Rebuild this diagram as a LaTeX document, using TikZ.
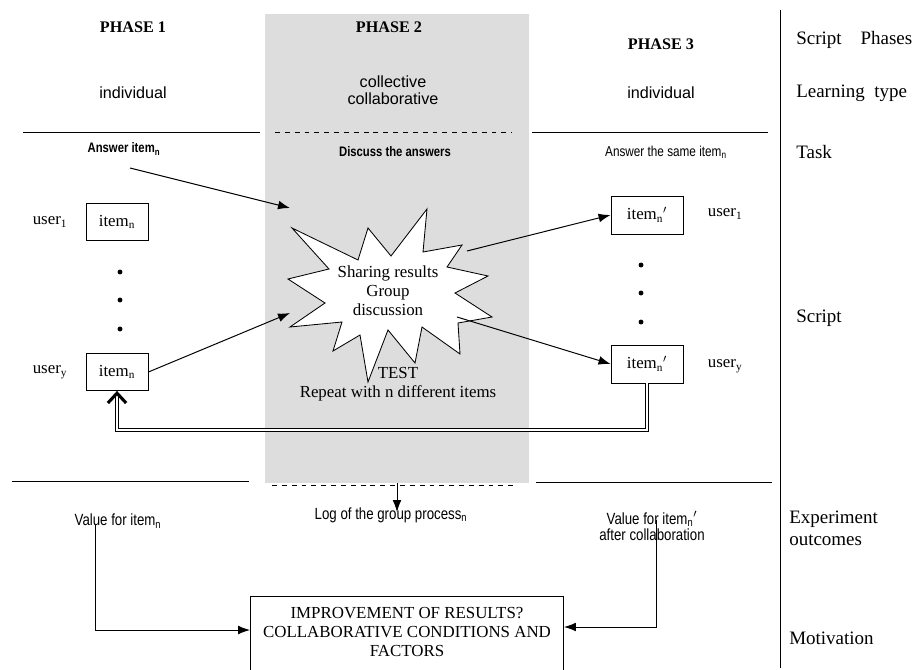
\documentclass[tikz,border=0pt]{standalone}
\usepackage{fontspec}
\setmainfont{Liberation Serif}
\setsansfont{Liberation Sans}
\newfontfamily\narrowsf{Liberation Sans}[FakeStretch=0.82]
\usetikzlibrary{positioning, arrows.meta}
\tikzset{
  itembox/.style={rectangle, draw, line width=0.6pt, minimum width=1.55cm, minimum height=0.925cm, font=\fontsize{12}{14}\selectfont},
  itemboxb/.style={itembox, minimum width=1.8cm, minimum height=0.95cm},
  serif/.style={font=\fontsize{12}{13.5}\selectfont, align=center},
  side/.style={font=\fontsize{13.5}{15.5}\selectfont, anchor=west, align=left, inner sep=0pt},
  phase/.style={font=\fontsize{11.5}{13}\selectfont\bfseries},
  sans/.style={font=\fontsize{11.5}{12}\selectfont\sffamily, align=center},
  narrow/.style={font=\fontsize{11.5}{11.5}\selectfont\narrowsf, align=center},
  arrow/.style={-{Latex[length=3mm,width=2.2mm]}, line width=0.7pt},
  sepline/.style={line width=0.6pt},
  dashsep/.style={line width=0.5pt, dash pattern=on 3.5pt off 3.5pt},
}

\begin{document}
\begin{tikzpicture}[x=0.025cm, y=-0.025cm]
  \tikzset{
    burstline/.style={draw, fill=white, line width=0.6pt, line join=miter},
    outbox/.style={rectangle, draw, fill=white, line width=0.6pt, minimum width=7.825cm, inner ysep=7.5pt, anchor=north, align=center, font=\fontsize{12}{13.5}\selectfont},
    dot/.style={circle, fill, inner sep=0pt, minimum size=3.5pt},
    feedback/.style={double, double distance=1.6pt, line width=0.6pt, -{Straight Barb[length=7pt, width=13pt, line width=2.2pt]}},
  }
  \useasboundingbox (0,0) rectangle (914,670);
  \clip (0,0) rectangle (914,670);

  % Phase 2 background
  \fill[gray!27] (265,14) rectangle (529,483);

  % Column headings
  \node[phase] (ph1) at (133,27) {PHASE 1};
  \node[phase] (ph2) at (389,27) {PHASE 2};
  \node[phase] (ph3) at (661,44) {PHASE 3};
  \node[sans] (learn1) at (133,93) {individual};
  \node[sans] (learn2) at (393,90) {collective\\collaborative};
  \node[sans] (learn3) at (661,93) {individual};

  % Separators
  \draw[sepline] (23,132) -- (260,132);
  \draw[dashsep] (275,132) -- (512,132);
  \draw[sepline] (532,132) -- (768,132);
  \draw[sepline] (12,481) -- (249,481);
  \draw[dashsep] (272,485) -- (513,485);
  \draw[sepline] (536,482) -- (772,482);
  \draw[sepline] (780,10) -- (780,668);

  % Tasks
  \node[narrow, font=\fontsize{9.8}{10}\selectfont\narrowsf\bfseries] (task1) at (124,149) {Answer item\textsubscript{n}};
  \node[narrow, font=\fontsize{9.8}{10}\selectfont\narrowsf\bfseries] (task2) at (395,152) {Discuss the answers};
  \node[narrow, font=\fontsize{10.2}{11}\selectfont\narrowsf] (task3) at (666,152) {Answer the same item\textsubscript{n}};

  % Phase 1 users
  \node[itembox] (lbox1) at (117,222) {item\textsubscript{n}};
  \node[itembox] (lbox2) at (117,372) {item\textsubscript{n}};
  \node[serif] (luser1) at (50,222) {user\textsubscript{1}};
  \node[serif] (lusery) at (50,372) {user\textsubscript{y}};
  \node[dot] (ldot1) at (120,272) {};
  \node[dot] (ldot2) at (120,300) {};
  \node[dot] (ldot3) at (120,329) {};

  % Group discussion (starburst)
  \path[burstline] (427,209) -- (423,252) -- (462,245) -- (447,267) -- (488,276)
    -- (455,293) -- (492,317) -- (458,323) -- (460,354) -- (422,327)
    -- (415,363) -- (388,330) -- (368,382) -- (360,335) -- (333,351)
    -- (342,322) -- (290,327) -- (325,303) -- (288,279) -- (329,269)
    -- (292,228) -- (358,260) -- (368,228) -- (391,256) -- cycle;
  \node[serif] (share) at (388,291) {Sharing results\\Group\\discussion};
  \node[serif] (test) at (398,384) {TEST\\Repeat with n different items};

  % Phase 3 users
  \node[itemboxb] (rbox1) at (647,215) {item\textsubscript{n}$'$};
  \node[itemboxb] (rbox2) at (647,364) {item\textsubscript{n}$'$};
  \node[serif, anchor=west] (ruser1) at (703,214) {user\textsubscript{1}};
  \node[serif, anchor=west] (rusery) at (703,366) {user\textsubscript{y}};
  \node[dot] (rdot1) at (641,265) {};
  \node[dot] (rdot2) at (641,293) {};
  \node[dot] (rdot3) at (641,322) {};

  % Arrows
  \coordinate (ansstart) at (130,168);
  \coordinate (burstin1) at (290,208);
  \coordinate (burstin2) at (290,313);
  \coordinate (burstout1) at (467,251);
  \coordinate (burstout2) at (457,317);
  \coordinate (backrow) at (0,430);
  \draw[arrow] (ansstart) -- (burstin1);
  \draw[arrow] (lbox2.east) -- (burstin2);
  \draw[arrow] (burstout1) -- (rbox1.west);
  \draw[arrow] (burstout2) -- (rbox2.west);
  \draw[feedback] (rbox2.south) -- (rbox2.south |- backrow) -| (lbox2.south);

  % Outcomes
  \node[narrow, font=\fontsize{11.5}{12}\selectfont\narrowsf] (log) at (391,515) {Log of the group process\textsubscript{n}};
  \coordinate (logstart) at (397,483);
  \coordinate (logend) at (397,512);
  \draw[arrow, line width=0.6pt] (logstart) -- (logend);
  \node[narrow] (valA) at (118,521) {Value for item\textsubscript{n}};
  \node[narrow] (valB) at (652,526) {Value for item\textsubscript{n}$'$\\after collaboration};

  % Motivation
  \node[outbox] (motive) at (407,596) {IMPROVEMENT OF RESULTS?\\COLLABORATIVE CONDITIONS AND\\FACTORS\\\rule{0pt}{30pt}};
  \coordinate (valAdrop) at (95,524);
  \coordinate (valBdrop) at (656,520);
  \coordinate (rowA) at (0,630);
  \coordinate (rowB) at (0,627);
  \draw[arrow] (valAdrop) |- (motive.west |- rowA);
  \draw[arrow] (valBdrop) |- (motive.east |- rowB);

  % Row labels
  \node[side] (lblphases) at (796,40) {Script\quad Phases};
  \node[side] (lbllearn) at (796,93) {Learning\ \ type};
  \node[side] (lbltask) at (796,152) {Task};
  \node[side] (lblscript) at (796,318) {Script};
  \node[side] (lblout) at (789,528) {Experiment\\outcomes};
  \node[side] (lblmotive) at (789,638) {Motivation};

\end{tikzpicture}
\end{document}
